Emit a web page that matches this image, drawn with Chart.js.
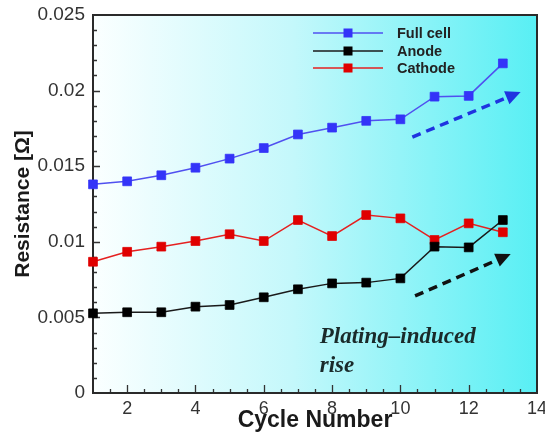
<!DOCTYPE html>
<html>
<head>
<meta charset="utf-8">
<script src="https://cdn.jsdelivr.net/npm/chart.js@4/dist/chart.umd.min.js"></script>
<style>
  html, body { margin: 0; padding: 0; background: #ffffff; }
  #wrap { width: 545px; height: 433px; }
</style>
</head>
<body>
<div id="wrap"><canvas id="chart" width="545" height="433"></canvas></div>
<script>
// Cycle-by-cycle resistance of the full cell and each electrode
const cycles   = [1, 2, 3, 4, 5, 6, 7, 8, 9, 10, 11, 12, 13];
const fullCell = [0.0138, 0.0140, 0.0144, 0.0149, 0.0155, 0.0162, 0.0171, 0.01755, 0.0180, 0.0181, 0.0196, 0.01965, 0.0218];
const anode    = [0.00527, 0.00534, 0.00534, 0.00571, 0.00582, 0.00633, 0.00686, 0.00725, 0.0073, 0.00758, 0.00968, 0.00963, 0.01144];
const cathode  = [0.00868, 0.00934, 0.00968, 0.01005, 0.0105, 0.01005, 0.01144, 0.01038, 0.01177, 0.01155, 0.01012, 0.01122, 0.01063];

const seriesNames = ['Full cell', 'Anode', 'Cathode'];

const xTicks = [2, 4, 6, 8, 10, 12, 14];
const yTicks = [0, 0.005, 0.01, 0.015, 0.02, 0.025];
const yTickLabels = ['0', '0.005', '0.01', '0.015', '0.02', '0.025'];

// Trend arrows (in data coordinates) and the annotation text
const trendArrows = [
  { from: [10.35, 0.01693], to: [13.52, 0.01991], color: '#1f33e0' },
  { from: [10.43, 0.00642], to: [13.23, 0.00919], color: '#111111' }
];
const noteLines = ['Plating\u2013induced', 'rise'];
const noteAnchor = [7.64, 0.00330];
const noteLineStep = 0.00192;

const toPoints = vals => vals.map((v, i) => ({ x: cycles[i], y: v }));

// Plot-area gradient fill, inward ticks and frame
const backdrop = {
  id: 'backdrop',
  beforeDatasetsDraw(chart) {
    const { ctx, chartArea: a } = chart;
    ctx.save();
    const g = ctx.createLinearGradient(a.left, 0, a.right, 0);
    g.addColorStop(0, '#fbffff');
    g.addColorStop(0.45, '#c4f8fb');
    g.addColorStop(1, '#58eff4');
    ctx.fillStyle = g;
    ctx.fillRect(a.left, a.top, a.right - a.left, a.bottom - a.top);

    const xs = chart.scales.x, ys = chart.scales.y;
    ctx.strokeStyle = '#333333';
    ctx.lineWidth = 1.3;
    ctx.beginPath();
    for (let v = 1.5; v < 14; v += 0.5) {
      const px = Math.round(xs.getPixelForValue(v)) + 0.5;
      const len = xTicks.includes(v) ? 8 : 4;
      ctx.moveTo(px, a.bottom);
      ctx.lineTo(px, a.bottom - len);
    }
    for (let k = 1; k < 25; k++) {
      const v = k * 0.001;
      const py = Math.round(ys.getPixelForValue(v)) + 0.5;
      const len = k % 5 === 0 ? 7 : 4;
      ctx.moveTo(a.left, py);
      ctx.lineTo(a.left + len, py);
    }
    ctx.stroke();

    ctx.strokeStyle = '#2a2a2a';
    ctx.lineWidth = 2;
    ctx.strokeRect(a.left, a.top, a.right - a.left, a.bottom - a.top);
    ctx.restore();
  }
};

// Legend box, arrows and annotation
const overlay = {
  id: 'overlay',
  afterDatasetsDraw(chart) {
    const { ctx } = chart;
    const xs = chart.scales.x, ys = chart.scales.y;
    ctx.save();

    trendArrows.forEach(ar => {
      const x0 = xs.getPixelForValue(ar.from[0]), y0 = ys.getPixelForValue(ar.from[1]);
      const x1 = xs.getPixelForValue(ar.to[0]),   y1 = ys.getPixelForValue(ar.to[1]);
      const ang = Math.atan2(y1 - y0, x1 - x0);
      const head = 15, half = 7;
      const bx = x1 - head * Math.cos(ang), by = y1 - head * Math.sin(ang);
      ctx.strokeStyle = ar.color;
      ctx.fillStyle = ar.color;
      ctx.lineWidth = 3.5;
      ctx.setLineDash([9, 6]);
      ctx.beginPath();
      ctx.moveTo(x0, y0);
      ctx.lineTo(bx, by);
      ctx.stroke();
      ctx.setLineDash([]);
      ctx.beginPath();
      ctx.moveTo(x1, y1);
      ctx.lineTo(bx + half * Math.sin(ang), by - half * Math.cos(ang));
      ctx.lineTo(bx - half * Math.sin(ang), by + half * Math.cos(ang));
      ctx.closePath();
      ctx.fill();
    });

    ctx.fillStyle = '#1a2a2a';
    ctx.font = 'italic bold 23px "Liberation Serif", "Times New Roman", serif';
    ctx.textBaseline = 'alphabetic';
    ctx.textAlign = 'left';
    noteLines.forEach((t, i) => {
      ctx.fillText(t, xs.getPixelForValue(noteAnchor[0]),
                   ys.getPixelForValue(noteAnchor[1] - i * noteLineStep));
    });

    // legend entries
    const lx0 = 313, lx1 = 383, lm = 348, tx = 397;
    const rows = [33, 51, 68];
    chart.data.datasets.forEach((ds, i) => {
      const y = rows[i];
      ctx.strokeStyle = ds.borderColor;
      ctx.lineWidth = 1.5;
      ctx.beginPath();
      ctx.moveTo(lx0, y);
      ctx.lineTo(lx1, y);
      ctx.stroke();
      ctx.fillStyle = ds.pointBackgroundColor;
      ctx.fillRect(lm - 4.5, y - 4.5, 9, 9);
      ctx.fillStyle = '#222222';
      ctx.font = 'bold 14.5px "Liberation Sans", Arial, sans-serif';
      ctx.textBaseline = 'middle';
      ctx.fillText(ds.label, tx, y + 1);
    });
    ctx.restore();
  }
};

const seriesStyle = (line, fill) => ({
  borderColor: line,
  borderWidth: 1.5,
  pointStyle: 'rect',
  pointRadius: 6.2,
  pointBorderWidth: 0.8,
  pointBackgroundColor: fill,
  pointBorderColor: fill,
  tension: 0,
  fill: false
});

new Chart(document.getElementById('chart'), {
  type: 'line',
  data: {
    datasets: [
      { label: seriesNames[0], data: toPoints(fullCell), ...seriesStyle('#5050f0', '#3434f8') },
      { label: seriesNames[1], data: toPoints(anode),    ...seriesStyle('#1a1a1a', '#000000') },
      { label: seriesNames[2], data: toPoints(cathode),  ...seriesStyle('#e52020', '#e00000') }
    ]
  },
  options: {
    responsive: false,
    devicePixelRatio: 1,
    animation: false,
    clip: false,
    layout: { padding: { left: 0, right: 8, top: 15, bottom: 0 } },
    plugins: { legend: { display: false }, tooltip: { enabled: false } },
    scales: {
      x: {
        type: 'linear',
        min: 1,
        max: 14,
        grid: { display: false, drawTicks: false },
        border: { display: false },
        afterBuildTicks: s => { s.ticks = xTicks.map(v => ({ value: v })); },
        afterFit: s => { s.height = 40; s.paddingLeft = 0; s.paddingRight = 0; },
        ticks: {
          autoSkip: false,
          maxRotation: 0,
          padding: 5,
          color: '#333333',
          font: { family: '"Liberation Sans", Arial, sans-serif', size: 18 }
        },
        title: {
          display: true,
          text: 'Cycle Number',
          color: '#1a1a1a',
          padding: { top: 0, bottom: 1 },
          font: { family: '"Liberation Sans", Arial, sans-serif', size: 23, weight: 'bold', lineHeight: 1 }
        }
      },
      y: {
        type: 'linear',
        min: 0,
        max: 0.025,
        grid: { display: false, drawTicks: false },
        border: { display: false },
        afterBuildTicks: s => { s.ticks = yTicks.map(v => ({ value: v })); },
        afterFit: s => { s.width = 93; s.paddingTop = 0; s.paddingBottom = 0; },
        ticks: {
          autoSkip: false,
          padding: 8,
          color: '#333333',
          font: { family: '"Liberation Sans", Arial, sans-serif', size: 19 },
          callback: (v, i) => yTickLabels[i]
        },
        title: {
          display: true,
          text: 'Resistance [\u03A9]',
          color: '#1a1a1a',
          padding: { top: 11, bottom: 0 },
          font: { family: '"Liberation Sans", Arial, sans-serif', size: 21, weight: 'bold', lineHeight: 1.2 }
        }
      }
    }
  },
  plugins: [backdrop, overlay]
});
</script>
</body>
</html>
